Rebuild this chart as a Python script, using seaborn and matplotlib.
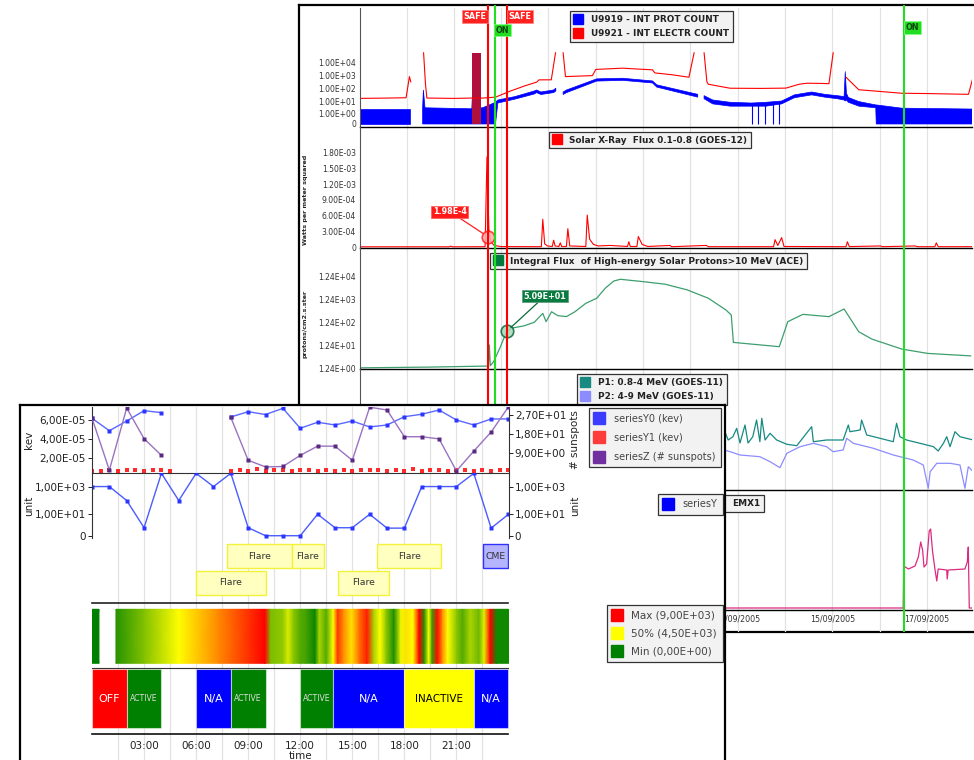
import numpy as np
import pandas as pd
import matplotlib
matplotlib.use("Agg")
import matplotlib.pyplot as plt
import seaborn as sns
from matplotlib.colors import LinearSegmentedColormap
from matplotlib.lines import Line2D
from matplotlib.ticker import NullLocator

sns.set_style("white")
plt.rcParams["font.family"] = ["DejaVu Sans"]

W, H = 974, 760

# ----------------------------------------------------------
# Data, back window (x = day of September 2005)
# ----------------------------------------------------------
elec_pts = [(5.02, 16), (5.6, 17), (5.99, 18), (6.03, 150), (6.06, 780), (6.09, 300),
            (6.2, np.nan), (6.36, 56000), (6.40, 200), (6.43, 17), (7.0, 16), (7.38, 17),
            (7.61, 17), (7.88, 20), (8.2, 60), (8.5, 150), (8.75, 290), (8.8, 435),
            (9.06, 440), (9.15, 56000), (9.23, np.nan), (9.31, 56000), (9.36, 780),
            (9.93, 930), (10.0, 2800), (10.56, 3500), (11.2, 2600), (11.25, 1500),
            (11.6, 1100), (11.97, 700), (12.08, 56000), (12.18, np.nan), (12.29, 56000),
            (12.35, 300), (12.38, 200), (12.84, 98), (13.5, 95), (14.02, 100), (14.3, 200),
            (14.47, 240), (14.8, 230), (14.93, 220), (15.02, 56000), (15.15, np.nan),
            (15.29, 700), (15.56, 75), (16.47, 40), (17.0, 38), (17.88, 33), (17.97, 575)]
# proton count: day, low edge, high edge of the noisy band
prot_pts = [(5.02, 0, 2.4), (6.07, 0, 2.4), (6.2, np.nan, np.nan), (6.34, 0, 3),
            (6.356, 0, 70), (6.39, 0, 3), (7.38, 0, 2.5), (7.40, 0, 200), (7.43, 0, 3),
            (7.61, 0, 3), (7.88, 0, 8), (7.93, 7, 12), (8.29, 14, 22), (8.70, 35, 60),
            (8.75, 45, 72), (8.84, 32, 50), (9.11, 45, 72), (9.156, 60, 98),
            (9.23, np.nan, np.nan), (9.31, 32, 50), (9.384, 45, 72), (10.02, 350, 520),
            (10.565, 400, 580), (11.2, 250, 360), (11.29, 120, 180), (12.156, 20, 33),
            (12.22, np.nan, np.nan), (12.29, 15, 26), (12.474, 6, 12), (12.84, 4, 8),
            (13.29, 4, 7), (13.6, 4, 8), (13.93, 6, 10), (14.2, 18, 30), (14.565, 30, 50),
            (14.84, 20, 33), (15.11, 15, 26), (15.25, 12, 22), (15.275, 10, 1900),
            (15.30, 12, 40), (15.34, 8, 19), (15.565, 4, 9), (15.92, 3, 5), (15.93, 0, 5),
            (16.47, 0, 2.8), (17.93, 0, 2.4), (17.97, 0, 2.4)]
dropout_days = [13.30, 13.44, 13.58, 13.75, 13.88]
dropout_top = [6, 7, 7, 8, 9]
burst_days = [7.38, 7.58]
burst_top = 56000

xray_pts = [(5.02, 4e-6), (6.90, 4e-6), (6.93, 1.6e-5), (6.97, 4e-6), (7.66, 6e-6),
            (7.70, 1.72e-3), (7.74, 3.5e-4), (7.78, 1.1e-4), (7.85, 3e-5), (8.0, 8e-6),
            (8.85, 6e-6), (8.88, 5.3e-4), (8.92, 6e-5), (8.98, 2e-5), (9.08, 1e-5),
            (9.11, 1.3e-4), (9.14, 2e-5), (9.22, 1e-5), (9.25, 8e-5), (9.28, 1e-5),
            (9.38, 1e-5), (9.41, 3.5e-4), (9.45, 2e-5), (9.79, 1e-5), (9.82, 6.1e-4),
            (9.87, 1.5e-4), (9.95, 5e-5), (10.05, 2e-5), (10.3, 3e-5), (10.67, 1e-5),
            (10.7, 1e-4), (10.73, 1e-5), (10.87, 1e-5), (10.9, 2e-4), (10.98, 5e-5),
            (11.1, 1e-5), (11.57, 3e-5), (11.6, 6e-6), (12.34, 3e-5), (12.38, 6e-6),
            (13.76, 6e-6), (13.79, 1.4e-4), (13.85, 3e-5), (13.93, 1.8e-4), (13.98, 1e-5),
            (15.29, 6e-6), (15.32, 1e-4), (15.36, 8e-6), (16.02, 2e-5), (16.06, 6e-6),
            (16.75, 2e-5), (16.8, 6e-6), (17.17, 6e-6), (17.2, 8e-5), (17.24, 6e-6),
            (17.955, 6e-6)]

ace_pts = [(5.02, 1.3), (6.5, 1.4), (7.70, 1.55), (7.73, 1.6), (7.75, 12.9), (7.77, 1.6),
           (7.84, 2.4), (7.97, 9.1), (8.11, 46), (8.20, 68), (8.475, 86), (8.70, 124),
           (8.88, 303), (8.95, 132), (9.065, 357), (9.20, 240), (9.38, 220), (9.56, 357),
           (9.79, 830), (10.02, 1380), (10.20, 3750), (10.38, 7700), (10.52, 9200),
           (11.02, 7200), (11.47, 5600), (11.93, 3200), (12.38, 1380), (12.75, 430),
           (12.865, 257), (12.91, 16.6), (13.29, 14), (13.88, 10.8), (14.06, 132),
           (14.38, 275), (14.93, 218), (15.25, 470), (15.56, 48), (15.84, 23),
           (16.47, 8.5), (17.02, 5.5), (17.93, 4.3)]

p1_pts = [(12.73, 58.3), (12.80, 50), (12.90, 53.3), (12.98, 61.7), (13.05, 47),
          (13.155, 65), (13.22, 47), (13.32, 53.3), (13.40, 70), (13.47, 48.3),
          (13.51, 71.7), (13.58, 50), (13.685, 56.7), (13.825, 50), (14.04, 45.7),
          (14.25, 44.3), (14.565, 63.3), (14.60, 48.3), (14.88, 50), (15.23, 50),
          (15.34, 65), (15.375, 58.3), (15.59, 60), (15.62, 70), (15.73, 55), (16.01, 51.7),
          (16.29, 48.3), (16.36, 66.7), (16.43, 53.3), (16.57, 50), (16.855, 46.7),
          (17.14, 43.3), (17.24, 39), (17.35, 46.7), (17.42, 53.3), (17.49, 43.3),
          (17.595, 58.3), (17.70, 53.3), (17.98, 50)]
p2_pts = [(12.73, 40), (13.05, 35), (13.47, 33.3), (13.685, 28.3), (13.895, 22.3),
          (14.04, 36.7), (14.32, 43.3), (14.60, 46.7), (14.88, 43.3), (15.02, 38.3),
          (15.23, 40), (15.305, 51.7), (15.445, 46.7), (15.87, 41.7), (16.29, 35),
          (16.71, 30), (16.925, 25), (17.03, 1.7), (17.07, 18.3), (17.21, 26.7),
          (17.49, 26.7), (17.70, 25), (17.805, 1.7), (17.876, 23.3), (17.98, 18.3)]
emx_pts = [(5.02, 1), (16.50, 1), (16.51, 43), (16.61, 40), (16.75, 43), (16.82, 52),
           (16.87, 67), (16.91, 59), (16.94, 42), (16.995, 45), (17.05, 78), (17.08, 80),
           (17.12, 58), (17.17, 40), (17.21, 28), (17.24, 40), (17.42, 39), (17.43, 30),
           (17.45, 39), (17.805, 40), (17.855, 47), (17.876, 62), (17.897, 1), (17.955, 1)]

safe_days = [7.72, 8.12]
on_days = [7.86, 16.52]
date_ticks = [13, 15, 17]
date_labels = ["13/09/2005", "15/09/2005", "17/09/2005"]

# ----------------------------------------------------------
# Data, front window (x = hour of day)
# ----------------------------------------------------------
hours = list(range(25))
series_y0 = [6.18e-5, 4.86e-5, 5.89e-5, 6.99e-5, 6.78e-5, np.nan, np.nan, np.nan, 6.32e-5,
             6.88e-5, 6.58e-5, 7.24e-5, 5.12e-5, 5.76e-5, 5.47e-5, 5.89e-5, 5.26e-5, 5.47e-5,
             6.35e-5, 6.61e-5, 7.06e-5, 6.00e-5, 5.47e-5, 6.11e-5, 6.11e-5]
series_z = [25.5, 1.2, 30.2, 15.9, 8.1, np.nan, np.nan, np.nan, 25.8, 5.8, 2.7, 2.9, 8.1,
            12.4, 12.4, 5.8, 30.6, 29.3, 16.8, 16.8, 15.8, 0.8, 10.1, 19.0, 30.8]
series_y = [1000, 1000, 98, 1.07, 9000, 98, 9000, 1000, 9000, 1.07, 0, 0, 0, 10, 1.07,
            1.07, 10, 1, 1, 1000, 1000, 1000, 9000, 1, 10]
y1_hours = [0, 0.5, 1, 1.5, 2, 2.5, 3, 3.5, 4, 4.5,
            8, 8.5, 9, 9.5, 10, 10.5, 11, 11.5, 12, 12.5, 13, 13.5, 14, 14.5, 15, 15.5,
            16, 16.5, 17, 17.5, 18, 18.5, 19, 19.5, 20, 20.5, 21, 21.5, 22, 22.5, 23, 23.5, 24]
y1_vals = [0.62e-5, 0.58e-5, 0.70e-5, 0.60e-5, 0.66e-5, 0.72e-5, 0.60e-5, 0.64e-5, 0.70e-5, 0.58e-5,
           0.60e-5, 0.68e-5, 0.62e-5, 0.74e-5, 0.58e-5, 0.66e-5, 0.70e-5, 0.60e-5, 0.64e-5,
           0.72e-5, 0.58e-5, 0.66e-5, 0.62e-5, 0.70e-5, 0.60e-5, 0.68e-5, 0.64e-5, 0.72e-5,
           0.60e-5, 0.66e-5, 0.62e-5, 0.74e-5, 0.58e-5, 0.66e-5, 0.70e-5, 0.60e-5, 0.64e-5,
           0.72e-5, 0.58e-5, 0.66e-5, 0.62e-5, 0.70e-5, 0.64e-5]

event_start = [7.8, 11.5, 16.45, 22.55, 6.0, 14.2]
event_end = [11.5, 13.35, 20.1, 24.0, 10.0, 17.1]
event_row = [1, 1, 1, 1, 0, 0]
event_label = ["Flare", "Flare", "Flare", "CME", "Flare", "Flare"]

heat_a = [(0.0, 0), (0.4, 0)]
heat_b = [(1.38, 700), (3.0, 2300), (5.0, 4500), (7.3, 6600), (9.97, 9000), (10.3, 2200),
          (11.0, 2600), (11.3, 3800), (11.6, 2500), (12.0, 1500), (12.3, 1300), (12.85, 200),
          (13.1, 3000), (13.5, 1500), (13.9, 4500), (14.15, 8000), (14.5, 6500), (14.95, 5000),
          (15.4, 7000), (15.85, 8500), (16.25, 3000), (16.6, 4500), (16.95, 2500), (17.4, 500),
          (17.8, 4200), (18.1, 5000), (18.5, 4500), (18.85, 9000), (19.15, 600), (19.4, 4500),
          (19.6, 1000), (19.9, 8800), (20.2, 6500), (20.5, 4500), (21.0, 2500), (21.35, 1500),
          (21.8, 3000), (22.3, 2000), (22.6, 4000), (22.95, 9000), (23.3, 300), (24.0, 300)]

state_start = [0, 2, 6, 8, 12, 13.9, 18, 22]
state_end = [2, 4, 8, 10, 13.9, 18, 22, 24]
state_label = ["OFF", "ACTIVE", "N/A", "ACTIVE", "ACTIVE", "N/A", "INACTIVE", "N/A"]
state_color = {"OFF": "#ff0000", "ACTIVE": "#008000", "N/A": "#0000ff", "INACTIVE": "#ffff00"}
state_text = {"OFF": "white", "ACTIVE": "#dddddd", "N/A": "white", "INACTIVE": "black"}

time_ticks = [3, 6, 9, 12, 15, 18, 21]
time_labels = ["03:00", "06:00", "09:00", "12:00", "15:00", "18:00", "21:00"]


def rect(x0, y0, x1, y1):
    return [x0 / W, 1 - y1 / H, (x1 - x0) / W, (y1 - y0) / H]


def frame(ax):
    ax.set_xticks([])
    ax.set_yticks([])
    ax.set_facecolor("white")
    for s in ax.spines.values():
        s.set_color("black")
        s.set_linewidth(1.6)


def square_legend(ax, entries, x, y, size, weight="normal", ms=7.5, loc="upper left",
                  spacing=0.5, textpad=1.0, pad=0.5):
    handles = [Line2D([], [], marker="s", ls="none", ms=ms, mfc=c, mec=c) for c, _ in entries]
    leg = ax.legend(handles, [t for _, t in entries], loc=loc,
                    bbox_to_anchor=(x / W, 1 - y / H), bbox_transform=fig.transFigure,
                    frameon=True, fancybox=False, framealpha=1, facecolor="#f2f2f2",
                    edgecolor="#333333", prop=dict(size=size, weight=weight),
                    handlelength=0.9, handletextpad=textpad, borderpad=pad,
                    labelspacing=spacing, borderaxespad=0)
    leg.get_frame().set_linewidth(0.9)
    for t in leg.get_texts():
        t.set_color("#222222" if weight == "bold" else "#444444")
    return leg


fig = plt.figure(figsize=(W / 100, H / 100), dpi=100)

# ----------------------------------------------------------
# Back window
# ----------------------------------------------------------
RX0, RX1 = 360.2, 972
DAY0 = 5.02
DAY1 = DAY0 + (RX1 - RX0) / 47.3

frame_r = fig.add_axes(rect(299, 5, 990, 632), zorder=0)
frame(frame_r)

grid_r = fig.add_axes(rect(RX0, 8, RX1, 632), zorder=1)
grid_r.set_xlim(DAY0, DAY1)
grid_r.set_xticks(range(6, 18))
grid_r.grid(axis="x", color="#e2e2e2", lw=0.9)
grid_r.set_yticks([])
grid_r.tick_params(length=0, labelbottom=False)
grid_r.patch.set_visible(False)
for s in grid_r.spines.values():
    s.set_visible(False)


def right_panel(y0, y1):
    ax = fig.add_axes(rect(RX0, y0, RX1, y1), zorder=2)
    ax.patch.set_visible(False)
    ax.spines["top"].set_visible(False)
    ax.spines["right"].set_visible(False)
    ax.spines["left"].set_color("#555555")
    ax.spines["bottom"].set_color("black")
    ax.spines["left"].set_linewidth(0.8)
    ax.spines["bottom"].set_linewidth(1.0)
    ax.tick_params(axis="y", labelsize=5.5, length=2, width=0.6, pad=1, colors="#333333")
    ax.tick_params(axis="x", length=0, labelbottom=False)
    return ax


elec = pd.DataFrame(elec_pts, columns=["day", "count"])
prot = pd.DataFrame(prot_pts, columns=["day", "lo", "hi"])

ax1 = right_panel(8, 127)
ax1.set_yscale("symlog", linthresh=1, linscale=0.7)
ax1.fill_between(prot["day"], prot["lo"], prot["hi"], color="#0000ff", lw=0.5, edgecolor="#0000ff")
ax1.vlines(dropout_days, 0, dropout_top, color="#0000ff", lw=0.8)
ax1.fill_between(burst_days, 0, burst_top, color="#b0103c", lw=0)
ax1.plot(elec["day"], elec["count"], color="#ff0000", lw=0.8)
ax1.set_ylim(-0.3, 1.6e8)
ax1.set_yticks([0, 1, 10, 100, 1000, 10000])
ax1.set_yticklabels(["0", "1.00E+00", "1.00E+01", "1.00E+02", "1.00E+03", "1.00E+04"])
ax1.yaxis.set_minor_locator(NullLocator())
square_legend(ax1, [("#0000ff", "U9919 - INT PROT COUNT"), ("#ff0000", "U9921 - INT ELECTR COUNT")],
              570, 11, 6.4, "bold", spacing=0.55, pad=0.45)

xray = pd.DataFrame(xray_pts, columns=["day", "flux"])
ax2 = right_panel(127, 248)
sns.lineplot(data=xray, x="day", y="flux", ax=ax2, color="#ff0000", lw=0.8,
             estimator=None, sort=False)
ax2.set_ylim(-1.9e-5, 2.293e-3)
ax2.set_yticks([0, 3e-4, 6e-4, 9e-4, 1.2e-3, 1.5e-3, 1.8e-3])
ax2.set_yticklabels(["0", "3.00E-04", "6.00E-04", "9.00E-04", "1.20E-03", "1.50E-03", "1.80E-03"])
ax2.set_xlabel("")
ax2.set_ylabel("Watts per meter squared", fontsize=4.6, fontweight="bold")
ax2.yaxis.set_label_coords((308 - RX0) / (RX1 - RX0), 0.397)
ax2.plot([7.72], [1.98e-4], marker="o", ms=9, mfc="#ffb0b0", mec="#ff2020", mew=1.2, alpha=0.85)
ax2.annotate("1.98E-4", xy=(7.72, 1.98e-4), xytext=(-38, 25), textcoords="offset pixels",
             ha="center", va="center", fontsize=5.8, fontweight="bold", color="white",
             bbox=dict(boxstyle="square,pad=0.2", fc="#ff1a1a", ec="#ff6060", lw=0.6),
             arrowprops=dict(arrowstyle="-", color="#ff2020", lw=0.9, shrinkA=0, shrinkB=4))
square_legend(ax2, [("#ff0000", "Solar X-Ray  Flux 0.1-0.8 (GOES-12)")], 549, 132, 6.4, "bold",
              pad=0.4)

ace = pd.DataFrame(ace_pts, columns=["day", "flux"])
ax3 = right_panel(248, 369)
ax3.set_yscale("log")
sns.lineplot(data=ace, x="day", y="flux", ax=ax3, color="#3d9e6e", lw=0.9,
             estimator=None, sort=False)
ax3.set_ylim(1.156, 2.11e5)
ax3.set_yticks([1.24, 12.4, 124, 1240, 12400])
ax3.set_yticklabels(["1.24E+00", "1.24E+01", "1.24E+02", "1.24E+03", "1.24E+04"])
ax3.yaxis.set_minor_locator(NullLocator())
ax3.set_xlabel("")
ax3.set_ylabel("protons/cm2.s.ster", fontsize=4.6, fontweight="bold")
ax3.yaxis.set_label_coords((308 - RX0) / (RX1 - RX0), 0.372)
ax3.plot([8.12], [50.9], marker="o", ms=9, mfc="#a8d8b8", mec="#0a6a3a", mew=1.2, alpha=0.85)
ax3.annotate("5.09E+01", xy=(8.12, 50.9), xytext=(38, 35), textcoords="offset pixels",
             ha="center", va="center", fontsize=5.8, fontweight="bold", color="white",
             bbox=dict(boxstyle="square,pad=0.2", fc="#0a7a40", ec="#60a080", lw=0.6),
             arrowprops=dict(arrowstyle="-", color="#0a6a3a", lw=0.9, shrinkA=0, shrinkB=4))
square_legend(ax3, [("#007a3d", "Integral Flux  of High-energy Solar Protons>10 MeV (ACE)")],
              490, 253, 6.4, "bold", pad=0.4)

p1 = pd.DataFrame(p1_pts, columns=["day", "flux"])
p2 = pd.DataFrame(p2_pts, columns=["day", "flux"])
ax4 = right_panel(369, 490)
sns.lineplot(data=p1, x="day", y="flux", ax=ax4, color="#178a82", lw=0.9, estimator=None, sort=False)
sns.lineplot(data=p2, x="day", y="flux", ax=ax4, color="#8c8cff", lw=0.9, estimator=None, sort=False)
ax4.set_ylim(0, 121)
ax4.set_yticks([])
ax4.set_xlabel("")
ax4.set_ylabel("")
square_legend(ax4, [("#178a82", "P1: 0.8-4 MeV (GOES-11)"), ("#8c8cff", "P2: 4-9 MeV (GOES-11)")],
              577, 374, 6.4, "bold", spacing=0.6, pad=0.45)

emx = pd.DataFrame(emx_pts, columns=["day", "value"])
ax5 = right_panel(490, 610)
sns.lineplot(data=emx, x="day", y="value", ax=ax5, color="#dc2a80", lw=0.9, estimator=None, sort=False)
ax5.set_ylim(-1, 119)
ax5.set_yticks([])
ax5.set_xticks(date_ticks)
ax5.set_xticklabels(date_labels)
ax5.tick_params(axis="x", length=2, labelbottom=True, labelsize=5.7, pad=1, colors="#333333")
ax5.set_ylabel("")
ax5.set_xlabel("time", fontsize=6.5, fontweight="bold")
ax5.xaxis.set_label_coords((957 - RX0) / (RX1 - RX0), -0.125)
square_legend(ax5, [("#dc2a80", "EMX1")], 764, 495, 6.4, "bold", loc="upper right",
              textpad=2.2, pad=0.45)

for ax in (ax1, ax2, ax3, ax4, ax5):
    ax.set_xlim(DAY0, DAY1)

over_r = fig.add_axes(rect(RX0, 5, RX1, 632), zorder=3)
over_r.set_xlim(DAY0, DAY1)
over_r.set_ylim(0, 1)
over_r.axis("off")
for d in safe_days:
    over_r.axvline(d, color="#ff0000", lw=1.5)
for d in on_days:
    over_r.axvline(d, color="#22dd22", lw=1.5)


def yfrac(y):
    return 1 - (y - 5) / 627


tag = dict(fontsize=5.8, fontweight="bold", va="center", zorder=5)
over_r.text(safe_days[0] - 0.03, yfrac(16.5), "SAFE", ha="right", color="white",
            bbox=dict(boxstyle="square,pad=0.2", fc="#ff2020", ec="#ff8080", lw=0.5), **tag)
over_r.text(safe_days[1] + 0.03, yfrac(16.5), "SAFE", ha="left", color="white",
            bbox=dict(boxstyle="square,pad=0.2", fc="#ff2020", ec="#ff8080", lw=0.5), **tag)
over_r.text(on_days[0] + 0.03, yfrac(30), "ON", ha="left", color="#114411",
            bbox=dict(boxstyle="square,pad=0.2", fc="#22dd22", ec="#80ff80", lw=0.5), **tag)
over_r.text(on_days[1] + 0.03, yfrac(27.5), "ON", ha="left", color="#114411",
            bbox=dict(boxstyle="square,pad=0.2", fc="#22dd22", ec="#80ff80", lw=0.5), **tag)

# ----------------------------------------------------------
# Front window
# ----------------------------------------------------------
LX0, LX1 = 92, 508.5

frame_l = fig.add_axes(rect(20, 405, 725, 790), zorder=10)
frame(frame_l)

grid_l = fig.add_axes(rect(LX0, 407, LX1, 760), zorder=11)
grid_l.set_xlim(0, 24)
grid_l.set_xticks(np.arange(1.5, 24, 1.5))
grid_l.grid(axis="x", color="#e2e2e2", lw=0.9)
grid_l.set_yticks([])
grid_l.tick_params(length=0, labelbottom=False)
grid_l.patch.set_visible(False)
for s in grid_l.spines.values():
    s.set_visible(False)


def left_panel(y0, y1, z=12):
    ax = fig.add_axes(rect(LX0, y0, LX1, y1), zorder=z)
    ax.patch.set_visible(False)
    for s in ax.spines.values():
        s.set_visible(False)
    ax.tick_params(axis="both", labelsize=7.5, length=3, width=0.7, pad=1.5, colors="#222222")
    ax.tick_params(axis="x", length=0, labelbottom=False)
    return ax


def segmented(x, y):
    df = pd.DataFrame({"x": x, "y": y})
    df["seg"] = df["y"].isna().cumsum()
    return df.dropna()


lab = dict(fontsize=7.5, color="#222222")

a1 = left_panel(407, 472.7)
for side in ("left", "right", "bottom"):
    a1.spines[side].set_visible(True)
    a1.spines[side].set_color("#333333")
sns.lineplot(data=segmented(hours, series_y0), x="x", y="y", units="seg", estimator=None,
             ax=a1, color="#5a68ff", lw=1.0, marker="s", ms=2.6, mec="none", mfc="#2a36ff")
y1 = pd.DataFrame({"x": y1_hours, "y": y1_vals})
sns.scatterplot(data=y1, x="x", y="y", ax=a1, color="#ff2a2a", marker="s", s=5, lw=0)
a1.set_ylim(0.4e-5, 7.38e-5)
a1.set_yticks([2e-5, 4e-5, 6e-5])
a1.set_yticklabels(["2,00E-05", "4,00E-05", "6,00E-05"])
a1.set_xlabel("")
a1.set_ylabel("kev", **lab)
a1.yaxis.set_label_coords((34 - LX0) / (LX1 - LX0), 0.5)

b1 = a1.twinx()
b1.set_zorder(12.5)
b1.patch.set_visible(False)
for s in b1.spines.values():
    s.set_visible(False)
sns.lineplot(data=segmented(hours, series_z), x="x", y="y", units="seg", estimator=None,
             ax=b1, color="#9a72c2", lw=1.0, marker="s", ms=2.6, mec="none", mfc="#5a2a80")
b1.set_ylim(0, 30.7)
b1.set_yticks([9, 18, 27])
b1.set_yticklabels(["9,00E+00", "1,80E+01", "2,70E+01"])
b1.tick_params(axis="y", labelsize=7.5, length=3, width=0.7, pad=1.5, colors="#222222")
b1.set_xlabel("")
b1.set_ylabel("# sunspots", **lab)
b1.yaxis.set_label_coords((570 - LX0) / (LX1 - LX0), 0.5)

a2 = left_panel(472.7, 538)
for side in ("left", "right"):
    a2.spines[side].set_visible(True)
    a2.spines[side].set_color("#333333")
a2.set_yscale("symlog", linthresh=1, linscale=0.493)
a2.plot(hours, series_y, color="#4a5cff", lw=1.0, marker="s", ms=2.6, mec="none", mfc="#2a36ff")
a2.set_ylim(-0.3, 1e4)
a2.set_yticks([0, 10, 1000])
a2.set_yticklabels(["0", "1,00E+01", "1,00E+03"])
a2.yaxis.set_minor_locator(NullLocator())
a2.set_ylabel("unit", **lab)
a2.yaxis.set_label_coords((34 - LX0) / (LX1 - LX0), 0.5)
b2 = a2.twinx()
b2.set_zorder(12.5)
b2.patch.set_visible(False)
for s in b2.spines.values():
    s.set_visible(False)
b2.set_yscale("symlog", linthresh=1, linscale=0.493)
b2.set_ylim(-0.3, 1e4)
b2.set_yticks([0, 10, 1000])
b2.set_yticklabels(["0", "1,00E+01", "1,00E+03"])
b2.yaxis.set_minor_locator(NullLocator())
b2.tick_params(axis="y", labelsize=7.5, length=3, width=0.7, pad=1.5, colors="#222222")
b2.set_ylabel("unit", **lab)
b2.yaxis.set_label_coords((570 - LX0) / (LX1 - LX0), 0.5)

# events
a3 = left_panel(538, 603)
a3.spines["bottom"].set_visible(True)
a3.spines["bottom"].set_color("#222222")
a3.spines["bottom"].set_linewidth(1.2)
for s, e, r, t in zip(event_start, event_end, event_row, event_label):
    fc, ec = ("#b4b4ff", "#3030ff") if t == "CME" else ("#ffffc0", "#f2f23a")
    a3.barh(r, e - s, left=s, height=0.9, color=fc, edgecolor=ec, lw=1.0, clip_on=True)
    a3.text((s + min(e, 24)) / 2, r, t, ha="center", va="center", fontsize=6.7, color="#333333")
a3.set_ylim(-0.75, 1.685)
a3.set_yticks([])

# heat strip
heat_cmap = LinearSegmentedColormap.from_list("heat", ["#008000", "#ffff00", "#ff0000"])
a4 = left_panel(603, 668)
for seg in (heat_a, heat_b):
    hh = np.array([p[0] for p in seg])
    vv = np.array([p[1] for p in seg], dtype=float)
    a4.pcolormesh(np.vstack([hh, hh]), np.vstack([np.full(len(hh), 0.072), np.full(len(hh), 0.903)]),
                  np.vstack([vv, vv]), shading="gouraud", cmap=heat_cmap, vmin=0, vmax=9000)
a4.set_ylim(0, 1)
a4.set_yticks([])
square_legend(a4, [("#ff0000", "Max (9,00E+03)"), ("#ffff00", "50% (4,50E+03)"),
                   ("#008000", "Min (0,00E+00)")], 607, 605, 7.5, ms=8.5, spacing=0.75,
              textpad=0.9, pad=0.55)

# state strip
a5 = left_panel(668, 734)
a5.spines["top"].set_visible(True)
a5.spines["bottom"].set_visible(True)
a5.spines["top"].set_color("#333333")
a5.spines["bottom"].set_color("#111111")
a5.spines["bottom"].set_linewidth(1.2)
for s, e, t in zip(state_start, state_end, state_label):
    a5.barh(0.533, e - s, left=s, height=0.894, color=state_color[t], edgecolor="#ffffff80", lw=0.8)
    fs = 5.6 if t == "ACTIVE" else (7.5 if t == "INACTIVE" else 8)
    a5.text((s + e) / 2, 0.533, t, ha="center", va="center", fontsize=fs, color=state_text[t])
a5.set_ylim(0, 1)
a5.set_yticks([])
a5.set_xticks(time_ticks)
a5.set_xticklabels(time_labels)
a5.set_xticks(np.arange(1.5, 24, 3), minor=True)
a5.tick_params(axis="x", which="both", length=3, width=0.7, labelbottom=True, labelsize=7.5,
               pad=2, colors="#222222")
a5.set_xlabel("time", fontsize=7.5, color="#222222", labelpad=0)

for ax in (a1, b1, a2, b2, a3, a4, a5):
    ax.set_xlim(0, 24)

square_legend(b1, [("#3c3cff", "seriesY0 (kev)"), ("#ff3c3c", "seriesY1 (kev)"),
                   ("#7030a0", "seriesZ (# sunspots)")], 589, 408.3, 7, ms=8.5, spacing=0.95,
              textpad=1.1, pad=0.55)
square_legend(b2, [("#0000ff", "seriesY")], 658, 494, 7, ms=8.5, textpad=1.1, pad=0.55)

fig.savefig("out.png", dpi=100, facecolor="white")
